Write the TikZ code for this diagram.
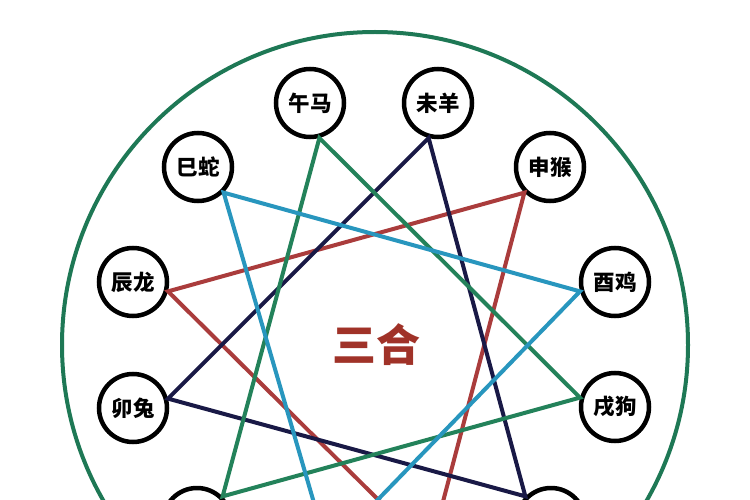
\documentclass[tikz,border=0pt]{standalone}
\usepackage{fontspec}
\newfontfamily\cjk{Noto Sans CJK SC}
\definecolor{ringgreen}{RGB}{30,120,85}
\definecolor{lgreen}{RGB}{35,130,90}
\definecolor{lnavy}{RGB}{25,25,70}
\definecolor{lred}{RGB}{170,60,60}
\definecolor{lcyan}{RGB}{40,150,190}
\definecolor{tred}{RGB}{160,50,40}
\tikzset{
  zn/.style={circle,draw=black,line width=4.5pt,fill=white,minimum size=68pt,inner sep=0pt,font=\cjk\bfseries\fontsize{21.5}{22}\selectfont},
  link/.style={line width=4pt},
}
\begin{document}
\begin{tikzpicture}[x=1pt,y=-1pt]
\useasboundingbox (0,0) rectangle (750,500);
\clip (0,0) rectangle (750,500);
\fill[white] (0,0) rectangle (750,500);
\draw[ringgreen,line width=4pt] (375,345) circle (313);
% nodes
\node[zn] (wu) at (310,103) {午马};
\node[zn] (wei) at (438,103) {未羊};
\node[zn] (si) at (198,167) {巳蛇};
\node[zn] (shen) at (550,167) {申猴};
\node[zn] (chen) at (133,282) {辰龙};
\node[zn] (you) at (615,282) {酉鸡};
\node[zn] (mao) at (133,408) {卯兔};
\node[zn] (xu) at (615,407) {戌狗};
\node[zn] (yin) at (197,522) {};
\node[zn] (hai) at (551,522) {};
\coordinate (chou) at (328,551);
\coordinate (zi) at (430,551);
\node[font=\cjk\bfseries\fontsize{44}{44}\selectfont,text=tred] (sanhe) at (376,345) {三合};
% connectors
\begin{scope}[link]
\draw[lred] (chen.-15) -- (shen.225) -- (zi) -- cycle;
\draw[lnavy] (mao.15) -- (wei.255) -- (hai.135) -- cycle;
\draw[lgreen] (wu.285) -- (xu.165) -- (yin.45) -- cycle;
\draw[lcyan] (si.-45) -- (you.195) -- (chou) -- cycle;
\end{scope}
\end{tikzpicture}
\end{document}
